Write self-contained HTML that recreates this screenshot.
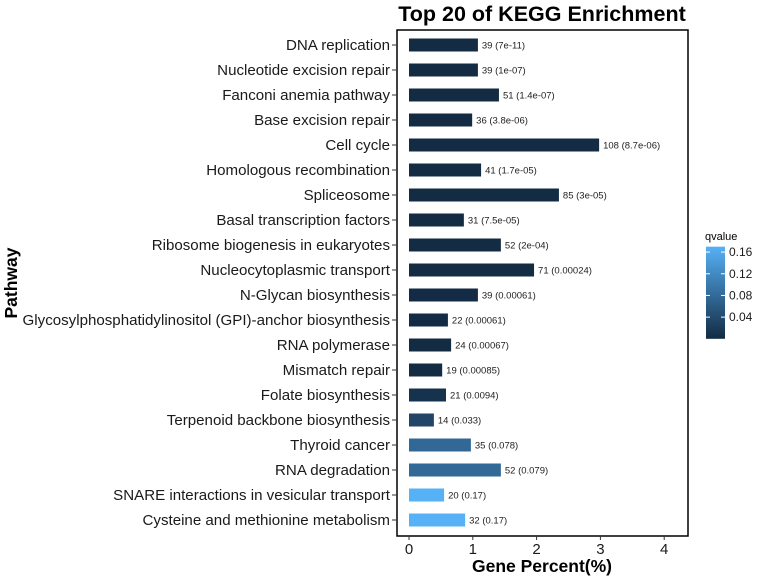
<!DOCTYPE html>
<html><head><meta charset="utf-8"><style>
body{margin:0;background:#fff;}
svg{display:block;font-family:"Liberation Sans",Arial,sans-serif;}
</style></head><body>
<svg id="chart" width="759" height="578"></svg>
<script>
const pathways=["DNA replication","Nucleotide excision repair","Fanconi anemia pathway","Base excision repair","Cell cycle","Homologous recombination","Spliceosome","Basal transcription factors","Ribosome biogenesis in eukaryotes","Nucleocytoplasmic transport","N-Glycan biosynthesis","Glycosylphosphatidylinositol (GPI)-anchor biosynthesis","RNA polymerase","Mismatch repair","Folate biosynthesis","Terpenoid backbone biosynthesis","Thyroid cancer","RNA degradation","SNARE interactions in vesicular transport","Cysteine and methionine metabolism"];
const genePercent=[1.08,1.08,1.41,0.99,2.98,1.13,2.35,0.86,1.44,1.96,1.08,0.61,0.66,0.52,0.58,0.39,0.97,1.44,0.55,0.88];
const counts=[39,39,51,36,108,41,85,31,52,71,39,22,24,19,21,14,35,52,20,32];
const qvalueLabels=["7e-11","1e-07","1.4e-07","3.8e-06","8.7e-06","1.7e-05","3e-05","7.5e-05","2e-04","0.00024","0.00061","0.00061","0.00067","0.00085","0.0094","0.033","0.078","0.079","0.17","0.17"];
const qvalues=[7e-11,1e-07,1.4e-07,3.8e-06,8.7e-06,1.7e-05,3e-05,7.5e-05,2e-04,0.00024,0.00061,0.00061,0.00067,0.00085,0.0094,0.033,0.078,0.079,0.17,0.17];
const xTicks=[0,1,2,3,4];
const legendTicks=[0.04,0.08,0.12,0.16];

const NS="http://www.w3.org/2000/svg";
const svg=document.getElementById('chart');
function mk(tag,attrs,parent){const e=document.createElementNS(NS,tag);for(const k in attrs)e.setAttribute(k,attrs[k]);(parent||svg).appendChild(e);return e;}
const px0=397,px1=688,py0=30,py1=536;
const x=v=>409+v*63.8;
const y=i=>45+i*25;
const qmin=0,qmax=0.17;
function col(q){const t=Math.max(0,Math.min(1,(q-qmin)/(qmax-qmin)));
 const a=[19,43,67],b=[86,177,247];
 return 'rgb('+a.map((c,k)=>Math.round(c+(b[k]-c)*t)).join(',')+')';}

const title=mk('text',{x:542,y:21,'text-anchor':'middle','font-size':21.5,'font-weight':'bold'});
title.textContent='Top 20 of KEGG Enrichment';



const panel=mk('rect',{x:px0,y:py0,width:px1-px0,height:py1-py0,fill:'#fff',stroke:'#000','stroke-width':1.5});



pathways.forEach((p,i)=>{
 const b=mk('rect',{x:x(0),y:y(i)-6.5,width:x(genePercent[i])-x(0),height:13,fill:col(qvalues[i])});
 
 
 const t=mk('text',{x:x(genePercent[i])+4,y:y(i)+3.5,'font-size':9.5,fill:'#222'});
 t.textContent=counts[i]+' ('+qvalueLabels[i]+')';
 
 
 const l=mk('text',{x:390,y:y(i)+5,'text-anchor':'end','font-size':15.1,fill:'#1a1a1a'});
 l.textContent=p;
 
 
 mk('line',{x1:392,x2:px0,y1:y(i),y2:y(i),stroke:'#333'});
});
xTicks.forEach(v=>{
 mk('line',{x1:x(v),x2:x(v),y1:py1,y2:py1+4,stroke:'#333'});
 const t=mk('text',{x:x(v),y:554,'text-anchor':'middle','font-size':15,fill:'#1a1a1a'});
 t.textContent=v;
 
 
});
const xt=mk('text',{x:542,y:572,'text-anchor':'middle','font-size':17.5,'font-weight':'bold'});
xt.textContent='Gene Percent(%)';


const yt=mk('text',{x:0,y:0,'text-anchor':'middle','font-size':17.5,'font-weight':'bold',transform:'translate(17,283) rotate(-90)'});
yt.textContent='Pathway';



const lt=mk('text',{x:705,y:240,'font-size':11});
lt.textContent='qvalue';


const defs=mk('defs',{});
const g=mk('linearGradient',{id:'qg',x1:0,y1:1,x2:0,y2:0},defs);
mk('stop',{offset:0,'stop-color':col(qmin)},g);
mk('stop',{offset:1,'stop-color':col(qmax)},g);
const ly=q=>338.8-q*542;
const cb=mk('rect',{x:706,y:ly(qmax),width:19,height:ly(qmin)-ly(qmax),fill:'url(#qg)'});


legendTicks.forEach(v=>{
 mk('line',{x1:706,x2:710,y1:ly(v),y2:ly(v),stroke:'#fff'});
 mk('line',{x1:721,x2:725,y1:ly(v),y2:ly(v),stroke:'#fff'});
 const t=mk('text',{x:729,y:ly(v)+4,'font-size':12,fill:'#1a1a1a'});
 t.textContent=v.toFixed(2);
 
 
});
</script>
</body></html>
